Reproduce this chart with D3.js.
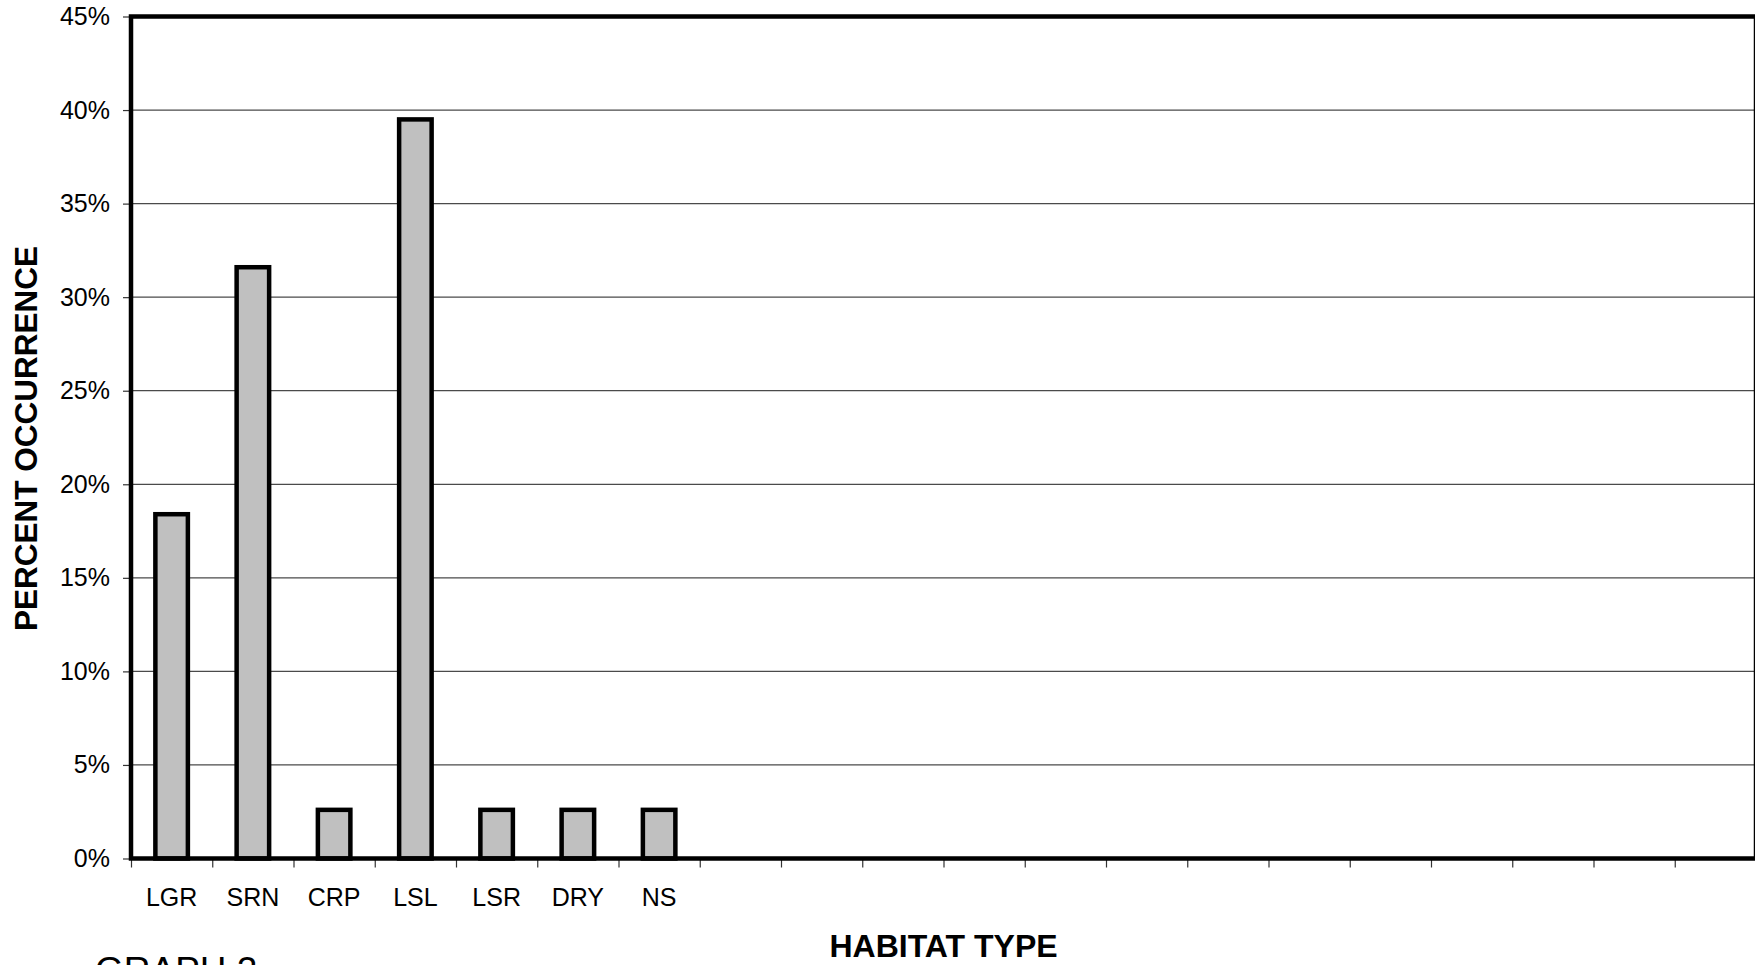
<!DOCTYPE html>
<html>
<head>
<meta charset="utf-8">
<script src="https://cdn.jsdelivr.net/npm/d3@7"></script>
<style>
  html, body { margin: 0; padding: 0; background: #fff; }
  svg { display: block; }
  text { font-family: Arial, "Liberation Sans", sans-serif; fill: #000; }
</style>
</head>
<body>
<svg id="chart" width="1755" height="965"></svg>
<script>
// Habitat types with recorded occurrences (share of all observations)
const categories = ["LGR", "SRN", "CRP", "LSL", "LSR", "DRY", "NS"];
const percentOccurrence = [18.4, 31.6, 2.6, 39.5, 2.6, 2.6, 2.6];
// The category axis has room for 20 habitat slots; only the first 7 are used
const slotCount = 20;
const yTickValues = [0, 5, 10, 15, 20, 25, 30, 35, 40, 45];

const svg = d3.select("#chart");
const plot = { left: 131, right: 1756, top: 16.5, bottom: 858.5 };

const y = d3.scaleLinear().domain([0, 45]).range([plot.bottom, plot.top]);
const x = d3.scaleBand()
  .domain(d3.range(slotCount))
  .range([plot.left, plot.right])
  .paddingInner(0.6)
  .paddingOuter(0.3);
const slotEdge = d3.scaleLinear().domain([0, slotCount]).range([plot.left, plot.right]);

// Horizontal gridlines
svg.append("g")
  .selectAll("line")
  .data(yTickValues.filter(v => v > 0 && v < 45))
  .join("line")
  .attr("x1", plot.left).attr("x2", plot.right)
  .attr("y1", d => y(d)).attr("y2", d => y(d))
  .attr("stroke", "#4a4a4a").attr("stroke-width", 1.2);

// Y axis ticks and percent labels
const yAxis = svg.append("g")
  .attr("transform", `translate(${plot.left},0)`)
  .call(d3.axisLeft(y).tickValues(yTickValues).tickSize(8).tickPadding(13)
    .tickFormat(d => d + "%"));
yAxis.select(".domain").remove();
yAxis.selectAll(".tick line").attr("stroke", "#333").attr("stroke-width", 1.2);
yAxis.selectAll(".tick text")
  .style("font-family", "Arial, 'Liberation Sans', sans-serif")
  .attr("font-size", 25);

// X axis: tick marks at slot boundaries
const xTicks = svg.append("g")
  .attr("transform", `translate(0,${plot.bottom})`)
  .call(d3.axisBottom(slotEdge).tickValues(d3.range(slotCount + 1)).tickSize(9).tickFormat(""));
xTicks.select(".domain").remove();
xTicks.selectAll(".tick line").attr("stroke", "#333").attr("stroke-width", 1.2);

// Category labels centred under each slot
svg.append("g")
  .selectAll("text")
  .data(categories)
  .join("text")
  .attr("x", (d, i) => x(i) + x.bandwidth() / 2)
  .attr("y", 906)
  .attr("text-anchor", "middle")
  .attr("font-size", 25)
  .text(d => d);

// Bars
svg.append("g")
  .selectAll("rect")
  .data(percentOccurrence)
  .join("rect")
  .attr("x", (d, i) => x(i))
  .attr("width", x.bandwidth())
  .attr("y", d => y(d))
  .attr("height", d => y(0) - y(d))
  .attr("fill", "#c0c0c0")
  .attr("stroke", "#000")
  .attr("stroke-width", 4.5);

// Plot frame
svg.append("rect")
  .attr("x", plot.left).attr("y", plot.top)
  .attr("width", plot.right - plot.left).attr("height", plot.bottom - plot.top)
  .attr("fill", "none").attr("stroke", "#000").attr("stroke-width", 4.5);

// Axis titles
svg.append("text")
  .attr("transform", `translate(36.5,${(plot.top + plot.bottom) / 2 + 1}) rotate(-90)`)
  .attr("text-anchor", "middle")
  .attr("font-size", 31.5)
  .attr("font-weight", "bold")
  .text("PERCENT OCCURRENCE");

svg.append("text")
  .attr("x", (plot.left + plot.right) / 2)
  .attr("y", 956.5)
  .attr("text-anchor", "middle")
  .attr("font-size", 32)
  .attr("font-weight", "bold")
  .text("HABITAT TYPE");

// Figure caption, partly below the bottom edge
svg.append("text")
  .attr("x", 95)
  .attr("y", 983)
  .attr("font-size", 37)
  .text("GRAPH 2");
</script>
</body>
</html>
